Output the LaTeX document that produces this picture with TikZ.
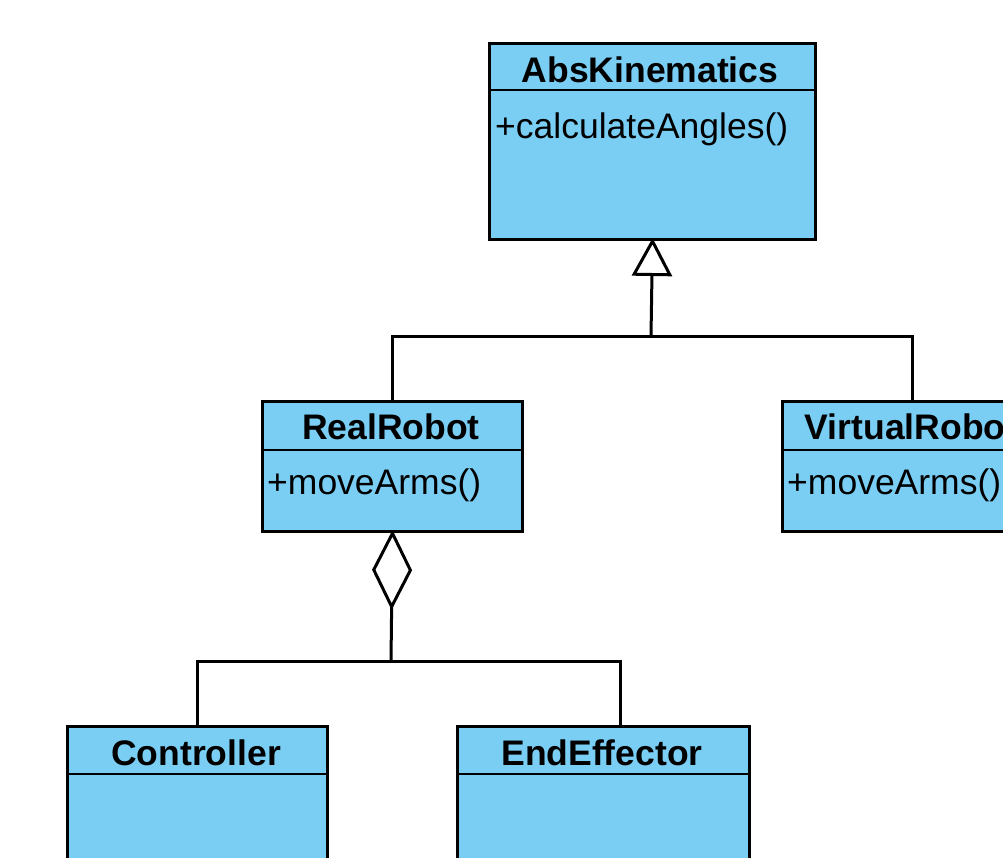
\documentclass[tikz,border=0pt]{standalone}
\usepackage{fontspec}
\setmainfont{Liberation Sans}
\usetikzlibrary{arrows.meta}
\definecolor{clsfill}{RGB}{122,206,244}
\tikzset{
  cls/.style={draw=black, fill=clsfill, line width=3pt, rectangle, inner sep=0pt, anchor=north west},
  divider/.style={draw=black, line width=2.5pt},
  ttl/.style={anchor=base, inner sep=0pt, font=\fontsize{35.5}{40}\selectfont\bfseries},
  mbr/.style={anchor=base west, inner sep=0pt, font=\fontsize{35.5}{40}\selectfont},
  conn/.style={draw=black, line width=3pt},
  inherit/.style={conn, shorten >=-3pt, -{Triangle[open, length=38pt, width=40pt, line width=3pt, fill=white]}},
  aggr/.style={conn, shorten >=-3pt, -{Diamond[open, length=80pt, width=40pt, line width=3pt, fill=white]}}
}
\begin{document}
\begin{tikzpicture}[x=1pt, y=-1pt]
\useasboundingbox (0,0) rectangle (1003,857);
\clip (0,0) rectangle (1003,857);
\fill[white] (0,0) rectangle (1003,857);

% AbsKinematics
\node[cls, minimum width=326pt, minimum height=196pt] (abs) at (488,42) {};
\draw[divider] (488,90) -- (814,90);
\node[ttl] (absT) at (650,82) {AbsKinematics};
\node[mbr] (absM) at (495,138) {+calculateAngles()};

% RealRobot
\node[cls, minimum width=260pt, minimum height=130pt] (rr) at (261,400) {};
\draw[divider] (261,450) -- (521,450);
\node[ttl] (rrT) at (391,439) {RealRobot};
\node[mbr] (rrM) at (267,494) {+moveArms()};

% VirtualRobot
\node[cls, minimum width=260pt, minimum height=130pt] (vr) at (781,400) {};
\draw[divider] (781,450) -- (1041,450);
\node[ttl] (vrT) at (911,439) {VirtualRobot};
\node[mbr] (vrM) at (787,494) {+moveArms()};

% Controller
\node[cls, minimum width=260pt, minimum height=160pt] (ctl) at (66,725) {};
\draw[divider] (66,774) -- (326,774);
\node[ttl] (ctlT) at (196,765) {Controller};

% EndEffector
\node[cls, minimum width=292pt, minimum height=160pt] (ee) at (456,725) {};
\draw[divider] (456,774) -- (748,774);
\node[ttl] (eeT) at (602,765) {EndEffector};

% inheritance
\coordinate (j1) at (651,336);
\draw[conn] (rr.north) |- (j1) -| (vr.north);
\draw[inherit] (j1) -- (abs.south);

% aggregation
\coordinate (j2) at (391,661);
\coordinate (cT) at (197,725);
\coordinate (eT) at (620,725);
\draw[conn] (cT) |- (j2) -| (eT);
\draw[aggr] (j2) -- (rr.south);
\end{tikzpicture}
\end{document}
